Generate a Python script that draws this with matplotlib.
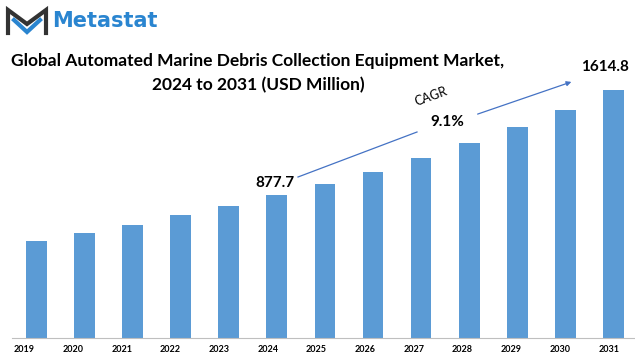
import matplotlib
matplotlib.use('Agg')
import matplotlib.pyplot as plt
import numpy as np

years = ['2019', '2020', '2021', '2022', '2023', '2024', '2025',
         '2026', '2027', '2028', '2029', '2030', '2031']
market = [555, 611, 667, 737, 800, 877.7, 957.6,
          1044.7, 1139.8, 1243.5, 1356.6, 1480.0, 1614.8]
cagr = '9.1%'

W, H = 635, 356
plt.rcParams['font.family'] = ['Lato', 'DejaVu Sans']

fig = plt.figure(figsize=(W / 100, H / 100), dpi=100)

def px(x, y):
    # pixel position (from top-left) to figure fraction
    return x / W, 1 - y / H

# axes placed so the baseline sits at y=338px
ax = fig.add_axes([12 / W, (H - 338) / H, 623 / W, 278 / H])
ymin = -124
ymax = ymin + 278 * 7.02
x = np.arange(len(years))
vals = np.array(market)
ax.bar(x, vals - ymin, bottom=ymin, width=0.43, color='#5b9bd5')
ax.set_xlim(-0.505, 12.447)
ax.set_ylim(ymin, ymax)
# year labels sit a little left of the bars, as in the original
ax.set_xticks(-0.25 + x * (48.7 / 48.1))
ax.set_xticklabels(years, fontsize=6.5, fontweight='bold')
ax.tick_params(axis='x', length=0, pad=5)
ax.set_yticks([])
for s in ['top', 'right', 'left']:
    ax.spines[s].set_visible(False)
ax.spines['bottom'].set_color('#bfbfbf')
ax.spines['bottom'].set_linewidth(0.8)

# value labels for first forecast year and last year
ax.annotate('877.7', (5, market[5]), xytext=(-1, 4), textcoords='offset points',
            ha='center', va='bottom', fontsize=11, fontweight='bold')
ax.annotate('1614.8', (12, market[12]), xytext=(-6, 12), textcoords='offset points',
            ha='center', va='bottom', fontsize=11, fontweight='bold')

# CAGR arrow
fig.add_artist(plt.Line2D([298 / W, 417 / W], [1 - 177 / H, 1 - 132 / H],
                          color='#4472c4', lw=0.9))
fig.add_artist(matplotlib.patches.FancyArrowPatch(
    px(475, 115), px(574, 81), transform=fig.transFigure,
    arrowstyle='-|>', mutation_scale=7, color='#4472c4', lw=0.9))
fig.text(*px(431, 96), 'CAGR', rotation=20, ha='center', va='center',
         fontsize=9)
fig.text(*px(447, 122), cagr, ha='center', va='center', fontsize=11,
         fontweight='bold')

# title
fig.text(*px(258, 61), 'Global Automated Marine Debris Collection Equipment Market,',
         ha='center', va='center', fontsize=12.5, fontweight='bold')
fig.text(*px(258, 85), '2024 to 2031 (USD Million)',
         ha='center', va='center', fontsize=12.5, fontweight='bold')

# logo
lx = [8, 8, 27, 46, 46]
ly = [33, 10, 24, 10, 33]
fig.add_artist(plt.Line2D([v / W for v in lx], [1 - v / H for v in ly],
                          color='#333333', lw=3, solid_joinstyle='miter'))
bx = [14, 27, 40]
by = [20, 32, 20]
fig.add_artist(plt.Line2D([v / W for v in bx], [1 - v / H for v in by],
                          color='#2a85d0', lw=3, solid_joinstyle='miter'))
fig.text(*px(52, 21), 'Metastat', ha='left', va='center', fontsize=15,
         fontweight='bold', color='#2a85d0', family='DejaVu Sans')

fig.savefig('out.png', dpi=100)
